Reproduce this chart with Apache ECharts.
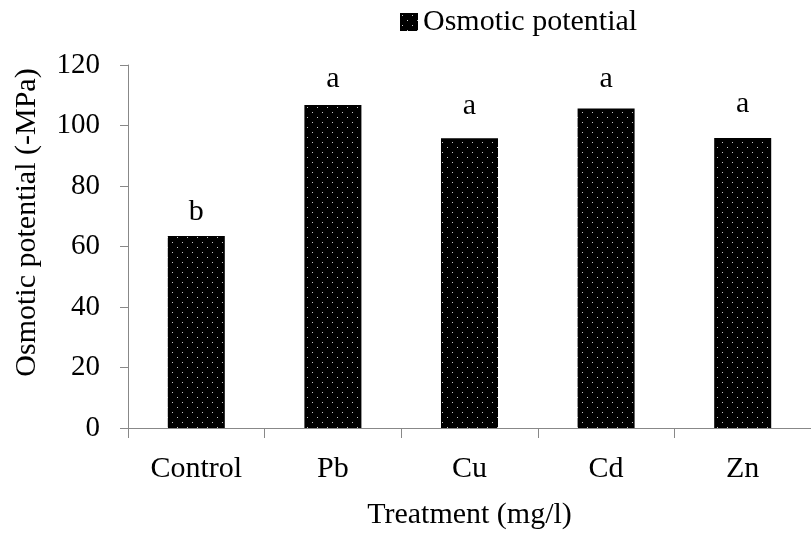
<!DOCTYPE html>
<html>
<head>
<meta charset="utf-8">
<script src="https://cdn.jsdelivr.net/npm/echarts@6/dist/echarts.min.js"></script>
<style>html,body{margin:0;padding:0;background:#fff;}#c{width:811px;height:535px;}</style>
</head>
<body>
<div id="c"></div>
<script>
const categories = ['Control', 'Pb', 'Cu', 'Cd', 'Zn'];
const osmoticValues = [63.5, 106.8, 95.8, 105.6, 95.9];
const letters = ['b', 'a', 'a', 'a', 'a'];
const yTicks = [0, 20, 40, 60, 80, 100, 120];

// label gap above each bar (px)
const letterGaps = [9, 11, 17, 14, 19];

function makePattern() {
  const cv = document.createElement('canvas');
  cv.width = 10; cv.height = 10;
  const ctx = cv.getContext('2d');
  ctx.fillStyle = '#000';
  ctx.fillRect(0, 0, 10, 10);
  ctx.fillStyle = '#c8c8c8';
  ctx.fillRect(2, 2, 1, 1);
  ctx.fillRect(7, 7, 1, 1);
  return cv;
}
const pattern = { image: makePattern(), repeat: 'repeat' };

const font = 'Liberation Serif';
const chart = echarts.init(document.getElementById('c'), null, { renderer: 'canvas' });
chart.setOption({
  animation: false,
  backgroundColor: '#fff',
  textStyle: { fontFamily: font, color: '#000' },
  legend: {
    left: 395, top: 2,
    itemWidth: 18, itemHeight: 18,
    icon: 'rect',
    textStyle: { fontFamily: font, fontSize: 30, color: '#000' },
    data: ['Osmotic potential']
  },
  grid: { left: 128, top: 65, width: 690, height: 370, containLabel: false },
  xAxis: {
    type: 'category',
    data: categories,
    name: 'Treatment (mg/l)',
    nameLocation: 'middle',
    nameGap: 72,
    nameTextStyle: { fontFamily: font, fontSize: 30, color: '#000' },
    axisLine: { lineStyle: { color: '#888', width: 1 } },
    axisTick: { show: true, length: 10, lineStyle: { color: '#888' } },
    axisLabel: { fontFamily: font, fontSize: 30, color: '#000', margin: 26 }
  },
  yAxis: {
    type: 'value',
    min: yTicks[0], max: yTicks[yTicks.length - 1], interval: 20,
    name: 'Osmotic potential (-MPa)',
    nameLocation: 'middle',
    nameRotate: 90,
    nameGap: 86,
    nameTextStyle: { fontFamily: font, fontSize: 30, color: '#000', padding: [0, 0, 0, 48] },
    axisLine: { show: true, lineStyle: { color: '#888', width: 1 } },
    axisTick: { show: true, length: 8, lineStyle: { color: '#888' } },
    splitLine: { show: false },
    axisLabel: { fontFamily: font, fontSize: 29, color: '#000', margin: 28 }
  },
  series: [{
    name: 'Osmotic potential',
    type: 'bar',
    barWidth: 57,
    itemStyle: { color: pattern },
    data: osmoticValues.map((v, i) => ({
      value: v,
      label: {
        show: true, position: 'top', distance: letterGaps[i],
        formatter: letters[i],
        fontFamily: font, fontSize: 30, color: '#000'
      }
    }))
  }]
});
</script>
</body>
</html>
